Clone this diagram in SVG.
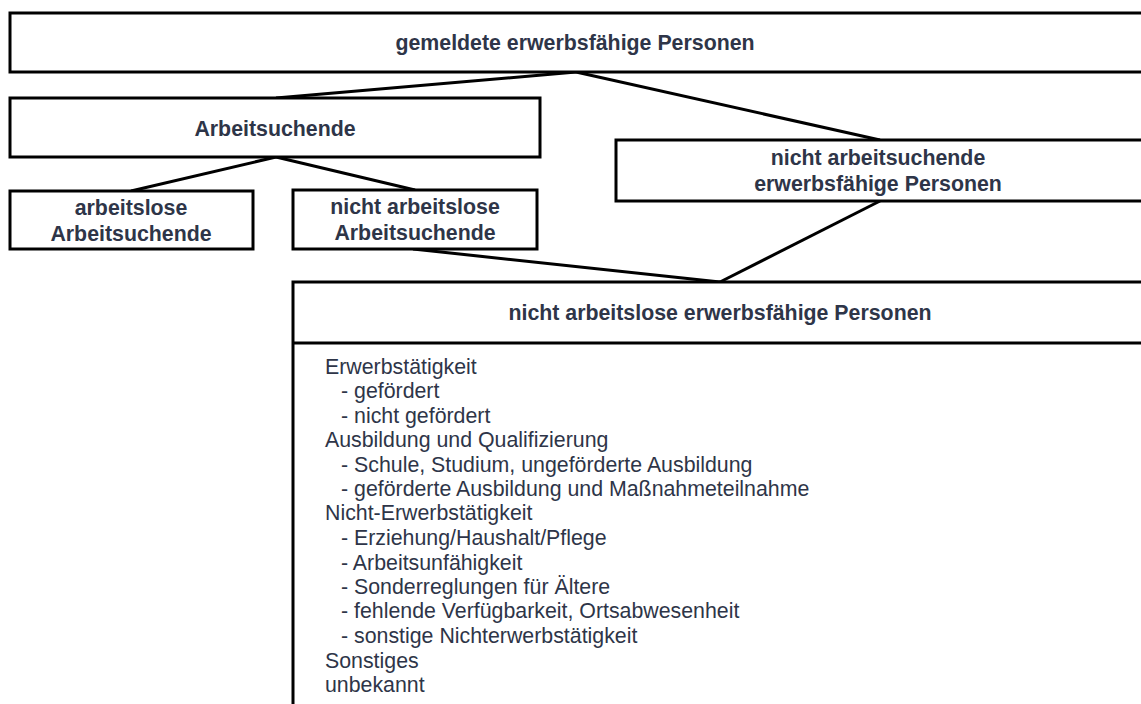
<svg xmlns="http://www.w3.org/2000/svg" width="1141" height="704" viewBox="0 0 1141 704">
<style>
.box{fill:#fff;stroke:#000;stroke-width:3}
.hd{font-family:"Liberation Sans",Arial,sans-serif;font-weight:bold;font-size:21.33px;fill:#2e3548;text-anchor:middle}
.li{font-family:"Liberation Sans",Arial,sans-serif;font-size:21.33px;fill:#2e3548}
.con{stroke:#000;stroke-width:3;fill:none}
</style>
<rect width="1141" height="704" fill="#fff"/>
<g id="connectors">
<line class="con" x1="576" y1="72" x2="276" y2="98"/>
<line class="con" x1="576" y1="72" x2="880" y2="140"/>
<line class="con" x1="276" y1="157" x2="131" y2="191"/>
<line class="con" x1="276" y1="157" x2="415" y2="190"/>
<line class="con" x1="413" y1="249" x2="720" y2="282"/>
<line class="con" x1="880" y1="201" x2="720" y2="282"/>
</g>
<g id="n-gemeldete">
<rect class="box" x="10" y="13" width="1140" height="59"/>
<text class="hd" x="575" y="50">gemeldete erwerbsfähige Personen</text>
</g>
<g id="n-arbeitsuchende">
<rect class="box" x="10" y="98" width="530" height="59"/>
<text class="hd" x="275" y="136">Arbeitsuchende</text>
</g>
<g id="n-nicht-arbeitsuchende">
<rect class="box" x="616" y="140" width="534" height="61"/>
<text class="hd" x="878" y="165">nicht arbeitsuchende</text>
<text class="hd" x="878" y="191">erwerbsfähige Personen</text>
</g>
<g id="n-arbeitslose">
<rect class="box" x="10" y="191" width="243" height="58"/>
<text class="hd" x="131" y="215">arbeitslose</text>
<text class="hd" x="131" y="241">Arbeitsuchende</text>
</g>
<g id="n-nicht-arbeitslose">
<rect class="box" x="293" y="190" width="244" height="59"/>
<text class="hd" x="415" y="214">nicht arbeitslose</text>
<text class="hd" x="415" y="240">Arbeitsuchende</text>
</g>
<g id="n-nicht-arbeitslose-ewf">
<rect class="box" x="293" y="282" width="860" height="440"/>
<line class="con" x1="293" y1="343" x2="1150" y2="343"/>
<text class="hd" x="720" y="320">nicht arbeitslose erwerbsfähige Personen</text>
<text class="li" x="325" y="374">Erwerbstätigkeit</text>
<text class="li" x="341" y="398">- gefördert</text>
<text class="li" x="341" y="423">- nicht gefördert</text>
<text class="li" x="325" y="447">Ausbildung und Qualifizierung</text>
<text class="li" x="341" y="472">- Schule, Studium, ungeförderte Ausbildung</text>
<text class="li" x="341" y="496">- geförderte Ausbildung und Maßnahmeteilnahme</text>
<text class="li" x="325" y="520">Nicht-Erwerbstätigkeit</text>
<text class="li" x="341" y="545">- Erziehung/Haushalt/Pflege</text>
<text class="li" x="341" y="570">- Arbeitsunfähigkeit</text>
<text class="li" x="341" y="594">- Sonderreglungen für Ältere</text>
<text class="li" x="341" y="618">- fehlende Verfügbarkeit, Ortsabwesenheit</text>
<text class="li" x="341" y="643">- sonstige Nichterwerbstätigkeit</text>
<text class="li" x="325" y="668">Sonstiges</text>
<text class="li" x="325" y="692">unbekannt</text>
</g>
</svg>
